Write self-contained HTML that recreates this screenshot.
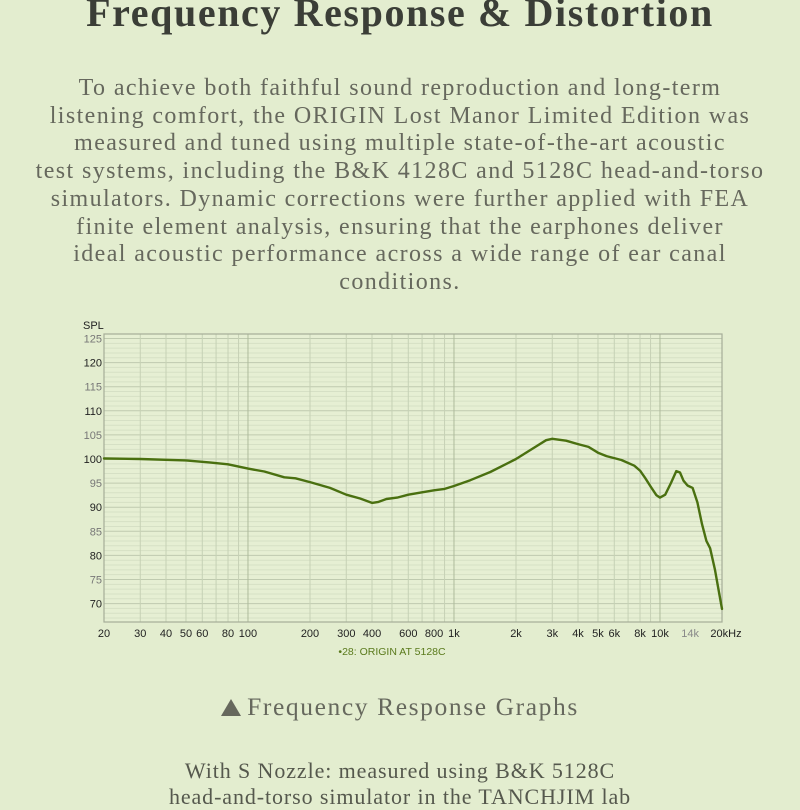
<!DOCTYPE html>
<html><head><meta charset="utf-8"><style>
html,body{margin:0;padding:0;}
body{width:800px;height:800px;overflow:hidden;background:#e3edcf;position:relative;font-family:"Liberation Serif",serif;}
.t{position:absolute;left:0;width:800px;text-align:center;white-space:nowrap;}
#title{top:-11px;font-size:40px;font-weight:bold;color:#3b3e37;letter-spacing:1.6px;}
#para{top:75px;font-size:24px;line-height:27.7px;color:#66685d;letter-spacing:1.4px;}
#cap{top:692px;font-size:25.5px;color:#66685d;letter-spacing:1.6px;}
#foot{top:758px;font-size:22px;line-height:26px;color:#55584d;letter-spacing:0.9px;}
svg{position:absolute;left:0;top:0;}
</style></head><body>
<div class="t" id="title">Frequency Response &amp; Distortion</div>
<div class="t" id="para">To achieve both faithful sound reproduction and long-term<br>listening comfort, the ORIGIN Lost Manor Limited Edition was<br>measured and tuned using multiple state-of-the-art acoustic<br>test systems, including the B&amp;K 4128C and 5128C head-and-torso<br>simulators. Dynamic corrections were further applied with FEA<br>finite element analysis, ensuring that the earphones deliver<br>ideal acoustic performance across a wide range of ear canal<br>conditions.</div>
<svg id="ch" width="800" height="800" font-family="Liberation Sans, sans-serif"></svg>
<div class="t" id="cap"><span style="display:inline-block;width:0;height:0;border-left:10px solid transparent;border-right:10px solid transparent;border-bottom:17px solid #66685d;vertical-align:-1px;margin-right:6px"></span>Frequency Response Graphs</div>
<div class="t" id="foot">With S Nozzle: measured using B&amp;K 5128C<br>head-and-torso simulator in the TANCHJIM lab</div>
<script>
var L=104,R=722,T=334,B=622;
function X(f){return L+206*Math.log10(f/20);}
function Y(v){return 459-(v-100)*4.82;}
var s='';
s+='<rect x="'+L+'" y="'+T+'" width="'+(R-L)+'" height="'+(B-T)+'" fill="#e6efd3" />';
for(var v=66;v<=125;v++){var y=Y(v);if(y<T||y>B)continue;var maj=v%5==0;
s+='<line x1="'+L+'" x2="'+R+'" y1="'+y+'" y2="'+y+'" stroke="'+(maj?'#bfcaaf':'#d6e0c5')+'" stroke-width="1"/>';}
var fs=[];for(var d=10;d<=10000;d*=10)for(var k=1;k<=9;k++){var f=d*k;if(f>=20&&f<=20000)fs.push(f);}
fs.forEach(function(f){var x=X(f);var maj=(f==100||f==1000||f==10000);
s+='<line x1="'+x+'" x2="'+x+'" y1="'+T+'" y2="'+B+'" stroke="'+(maj?'#aebb9c':'#c6d1b5')+'" stroke-width="1"/>';});
s+='<rect x="'+L+'" y="'+T+'" width="'+(R-L)+'" height="'+(B-T)+'" fill="none" stroke="#a5ad98" stroke-width="1.2"/>';
for(var v=70;v<=125;v+=5){s+='<text x="102" y="'+(Y(v)+4)+'" font-size="11" text-anchor="end" fill="'+(v%10==0?'#222':'#777')+'">'+v+'</text>';}
s+='<text x="83" y="329" font-size="11" fill="#222">SPL</text>';
var lab=[[20,'20'],[30,'30'],[40,'40'],[50,'50'],[60,'60'],[80,'80'],[100,'100'],[200,'200'],[300,'300'],[400,'400'],[600,'600'],[800,'800'],[1000,'1k'],[2000,'2k'],[3000,'3k'],[4000,'4k'],[5000,'5k'],[6000,'6k'],[8000,'8k'],[10000,'10k'],[14000,'14k'],[20000,'20kHz']];
lab.forEach(function(a){var x=X(a[0]);if(a[0]==20000)x+=4;s+='<text x="'+x+'" y="637" font-size="11" text-anchor="middle" fill="'+(a[0]==14000?'#888':'#222')+'">'+a[1]+'</text>';});
s+='<text x="392" y="655" font-size="10.5" text-anchor="middle" fill="#5a7a1c">•28: ORIGIN AT 5128C</text>';
var p=[[20,100.1],[30,100],[50,99.7],[65,99.3],[80,98.9],[100,98],[120,97.4],[150,96.2],[170,96],[200,95.2],[250,94],[300,92.6],[350,91.8],[400,90.9],[430,91.1],[470,91.7],[530,92],[600,92.6],[700,93.1],[800,93.5],[900,93.8],[1000,94.4],[1200,95.6],[1500,97.3],[2000,100],[2500,102.6],[2800,103.9],[3000,104.2],[3500,103.8],[4000,103.1],[4500,102.5],[5000,101.3],[5500,100.6],[6500,99.8],[7500,98.6],[8000,97.6],[8500,96],[9000,94.3],[9600,92.5],[10000,92],[10600,92.6],[11300,95],[12000,97.5],[12500,97.2],[13000,95.5],[13600,94.5],[14400,94],[15200,91],[16000,86.5],[16800,83],[17500,81.5],[18500,77],[19400,72],[20000,68.9]];
var d='';p.forEach(function(q,i){d+=(i?'L':'M')+X(q[0]).toFixed(1)+','+Y(q[1]).toFixed(1);});
s+='<path d="'+d+'" fill="none" stroke="#4a7010" stroke-width="2.4" stroke-linejoin="round" stroke-linecap="round"/>';
document.getElementById('ch').innerHTML=s;
</script>
</body></html>
